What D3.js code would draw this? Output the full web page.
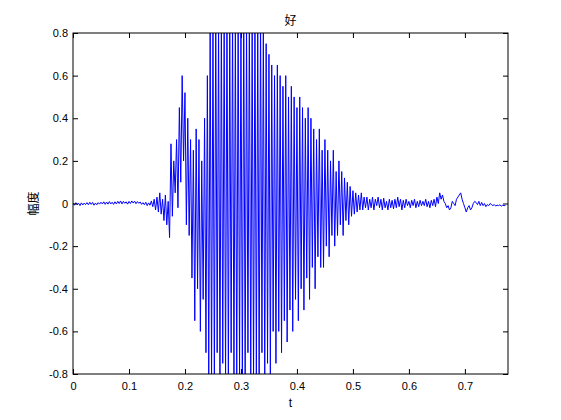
<!DOCTYPE html>
<html><head><meta charset="utf-8">
<script src="https://cdn.jsdelivr.net/npm/d3@7"></script>
<style>body{margin:0;background:#fff}text{font-family:"Noto Sans CJK SC",Arial,sans-serif}</style>
</head><body><svg id="c" width="561" height="420"></svg>
<script>
const title="好", yLabel="幅度", xLabel="t";
const dt=0.0025;
const samples=[
0.002,-0.008,0.004,-0.006,0.001,-0.01,0.003,-0.007,0.002,-0.005,
0.004,-0.006,0.006,-0.004,0.005,-0.008,0.002,-0.006,0.004,-0.003,
0.006,-0.002,0.008,-0.004,0.007,-0.003,0.009,-0.002,0.006,-0.004,
0.008,-0.002,0.01,0.0,0.012,-0.002,0.01,0.001,0.008,-0.003,
0.01,0.0,0.012,0.002,0.011,-0.001,0.009,0.001,0.007,-0.004,
0.004,-0.006,0.006,-0.01,0.003,-0.008,0.012,-0.015,0.02,-0.03,
0.03,-0.04,0.05,-0.05,0.02,-0.08,0.04,-0.1,0.01,-0.16,
0.28,-0.06,0.2,0.05,0.3,-0.02,0.45,0.1,0.6,0.2,
0.52,-0.1,0.4,-0.15,0.3,-0.35,0.25,-0.55,0.35,-0.4,
0.3,-0.6,0.2,-0.45,0.4,-0.7,0.6,-0.8,0.85,-0.85,
0.85,-0.85,0.9,-0.7,0.85,-0.85,0.9,-0.75,0.85,-0.85,
0.9,-0.85,0.85,-0.7,0.9,-0.85,0.85,-0.85,0.9,-0.8,
0.85,-0.85,0.9,-0.85,0.85,-0.7,0.9,-0.85,0.85,-0.85,
0.9,-0.8,0.85,-0.85,0.9,-0.7,0.85,-0.85,0.75,-0.75,
0.7,-0.8,0.65,-0.6,0.6,-0.75,0.65,-0.6,0.6,-0.7,
0.55,-0.55,0.6,-0.65,0.5,-0.5,0.55,-0.6,0.5,-0.45,
0.45,-0.55,0.5,-0.4,0.45,-0.5,0.4,-0.35,0.45,-0.45,
0.4,-0.3,0.35,-0.4,0.3,-0.25,0.35,-0.3,0.25,-0.3,
0.3,-0.2,0.25,-0.25,0.2,-0.15,0.25,-0.2,0.15,-0.15,
0.2,-0.1,0.15,-0.15,0.12,-0.08,0.1,-0.1,0.08,-0.06,
0.06,-0.05,0.05,-0.04,0.04,-0.03,0.05,-0.03,0.03,-0.02,
0.03,-0.03,0.02,-0.02,0.03,-0.03,0.02,-0.01,0.03,-0.02,
0.02,-0.03,0.025,-0.02,0.01,-0.03,0.02,-0.02,0.015,-0.025,
0.02,-0.02,0.03,-0.015,0.02,-0.03,0.015,-0.02,0.02,-0.01,
0.01,-0.02,0.015,-0.01,0.02,-0.02,0.01,-0.015,0.015,-0.01,
0.01,-0.01,0.02,-0.015,0.01,-0.02,0.015,-0.01,0.02,-0.015,
0.03,0.0,0.05,0.02,0.04,0.01,0.0,-0.02,-0.01,-0.03,
-0.02,0.01,0.0,-0.01,0.02,0.03,0.04,0.05,0.02,0.0,
-0.02,-0.04,-0.02,-0.01,-0.03,-0.02,0.0,0.01,0.005,-0.005,
0.01,-0.01,0.005,-0.01,0.0,-0.015,-0.005,-0.01,0.0,-0.005,
-0.01,-0.005,-0.012,-0.008,-0.01,-0.006,-0.012,-0.008,-0.01,-0.009];
const xTicks=[0,0.1,0.2,0.3,0.4,0.5,0.6,0.7];
const yTicks=[-0.8,-0.6,-0.4,-0.2,0,0.2,0.4,0.6,0.8];

const L=73,R=508,T=33,B=374;
const svg=d3.select("#c");
const x=d3.scaleLinear().domain([0,0.777]).range([L,R]);
const y=d3.scaleLinear().domain([-0.8,0.8]).range([B,T]);
svg.append("clipPath").attr("id","cp").append("rect").attr("x",L).attr("y",T).attr("width",R-L).attr("height",B-T);
svg.append("path").attr("clip-path","url(#cp)").attr("fill","none").attr("stroke","#0000ff").attr("stroke-width",1)
 .attr("d",d3.line().x((d,i)=>x(i*dt)).y(d=>y(d))(samples));
const fmt=d=>d===0?"0":String(d);
const ax=svg.append("g").attr("transform",`translate(0,${B})`).call(d3.axisBottom(x).tickValues(xTicks).tickFormat(fmt).tickSizeInner(-5).tickSizeOuter(0));
svg.append("g").attr("transform",`translate(0,${T})`).call(d3.axisTop(x).tickValues(xTicks).tickFormat("").tickSizeInner(-5).tickSizeOuter(0));
const ay=svg.append("g").attr("transform",`translate(${L},0)`).call(d3.axisLeft(y).tickValues(yTicks).tickFormat(fmt).tickSizeInner(-5).tickSizeOuter(0));
svg.append("g").attr("transform",`translate(${R},0)`).call(d3.axisRight(y).tickValues(yTicks).tickFormat("").tickSizeInner(-5).tickSizeOuter(0));
svg.selectAll(".domain").remove();
svg.selectAll(".tick text").attr("font-size",11).attr("fill","#000").style("font-family","Arial,Liberation Sans,sans-serif");
ax.selectAll(".tick text").attr("dy","0.9em").attr("y",6);
ay.selectAll(".tick text").attr("x",-5);
svg.append("rect").attr("x",L).attr("y",T).attr("width",R-L).attr("height",B-T).attr("fill","none").attr("stroke","#000");
svg.append("text").attr("x",(L+R)/2).attr("y",T-8).attr("text-anchor","middle").attr("font-size",12).text(title);
svg.append("text").attr("x",(L+R)/2).attr("y",B+33).attr("text-anchor","middle").attr("font-size",12).style("font-family","Arial,sans-serif").text(xLabel);
svg.append("text").attr("transform",`translate(${L-35},${(T+B)/2}) rotate(-90)`).attr("text-anchor","middle").attr("font-size",12).text(yLabel);
</script></body></html>
